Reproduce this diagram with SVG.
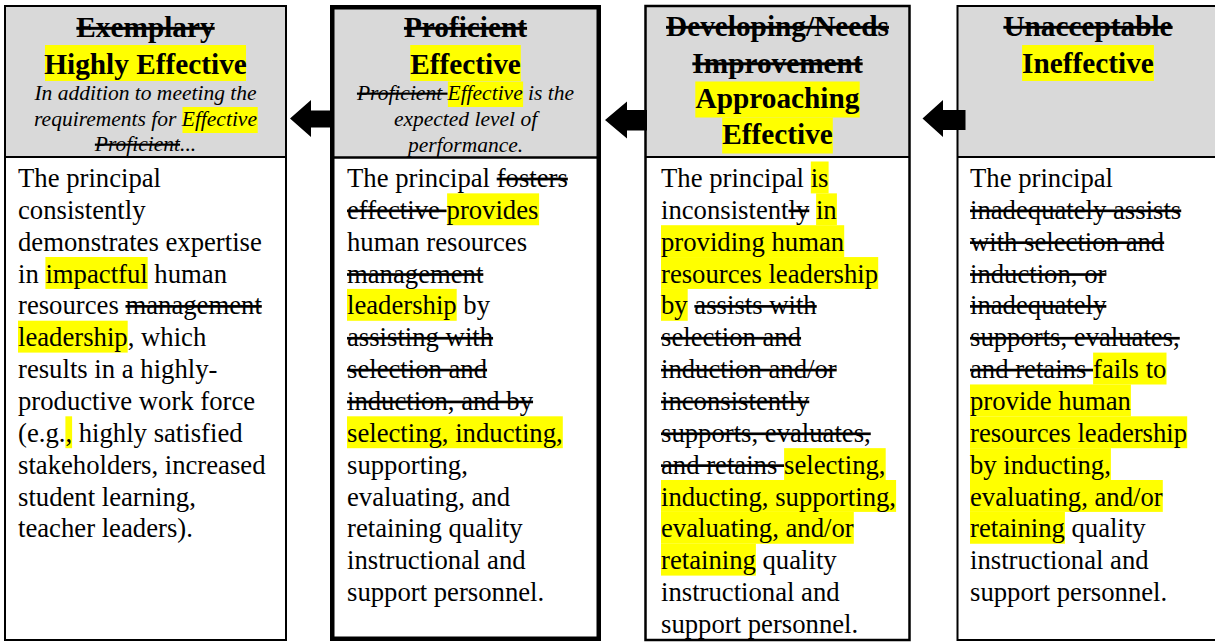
<svg xmlns="http://www.w3.org/2000/svg" width="1215" height="643" viewBox="0 0 1215 643">
<style>
.hd{font-family:"Liberation Serif","Times New Roman",serif;font-weight:bold;font-size:29.3px;text-anchor:middle;fill:#000}
.it{font-family:"Liberation Serif","Times New Roman",serif;font-style:italic;font-size:21.5px;text-anchor:middle;fill:#000}
.bd{font-family:"Liberation Serif","Times New Roman",serif;font-size:26.7px;fill:#000}
.s{text-decoration:line-through}
.hl{fill:#ffff00}
.hf{fill:#d9d9d9}
.bg{fill:#fff}
.ol{fill:none;stroke:#000;stroke-width:2}
.dv{stroke:#000;stroke-width:2}
.ar{fill:#000}
</style>
<rect width="1215" height="643" fill="#fff"/>

<g id="node-highly-effective">
<rect class="bg" x="5" y="6" width="281" height="634"/>
<rect class="hf" x="5" y="6" width="281" height="151"/>
<rect class="hl" x="45" y="45" width="201" height="36"/>
<rect class="hl" x="182.5" y="107" width="75.2" height="26"/>
<rect class="hl" x="45.4" y="257" width="102.3" height="31.9"/>
<rect class="hl" x="18" y="320.7" width="109.7" height="31.9"/>
<rect class="hl" x="65.4" y="416.3" width="6.7" height="31.9"/>
<text class="hd" x="145.5" y="37"><tspan class="s">Exemplary</tspan></text>
<text class="hd" x="145.5" y="74">Highly Effective</text>
<text class="it" x="145.5" y="100">In addition to meeting the</text>
<text class="it" x="145.5" y="126">requirements for Effective</text>
<text class="it" x="145.5" y="151"><tspan class="s">Proficient</tspan>...</text>
<text class="bd">
<tspan x="18" y="187">The principal</tspan>
<tspan x="18" y="218.85">consistently</tspan>
<tspan x="18" y="250.7">demonstrates expertise</tspan>
<tspan x="18" y="282.55">in impactful human</tspan>
<tspan x="18" y="314.4">resources <tspan class="s">management</tspan></tspan>
<tspan x="18" y="346.25">leadership, which</tspan>
<tspan x="18" y="378.1">results in a highly-</tspan>
<tspan x="18" y="409.95">productive work force</tspan>
<tspan x="18" y="441.8">(e.g., highly satisfied</tspan>
<tspan x="18" y="473.65">stakeholders, increased</tspan>
<tspan x="18" y="505.5">student learning,</tspan>
<tspan x="18" y="537.35">teacher leaders).</tspan>
</text>
<rect class="ol" x="5" y="6" width="281" height="634"/>
<line class="dv" x1="5" y1="157" x2="286" y2="157"/>
</g>

<g id="node-effective">
<rect class="bg" x="332" y="7" width="267" height="632"/>
<rect class="hf" x="332" y="7" width="267" height="150"/>
<rect class="hl" x="410.2" y="45" width="110.6" height="36"/>
<rect class="hl" x="447.9" y="81.5" width="75.2" height="25.5"/>
<rect class="hl" x="447.1" y="193.35" width="92" height="31.9"/>
<rect class="hl" x="347" y="288.9" width="109.7" height="31.9"/>
<rect class="hl" x="347" y="416.3" width="215.8" height="31.9"/>
<text class="hd" x="465.5" y="37"><tspan class="s">Proficient</tspan></text>
<text class="hd" x="465.5" y="74">Effective</text>
<text class="it" x="465.5" y="100"><tspan class="s">Proficient </tspan>Effective is the</text>
<text class="it" x="465.5" y="126">expected level of</text>
<text class="it" x="465.5" y="152">performance.</text>
<text class="bd">
<tspan x="347" y="187">The principal <tspan class="s">fosters</tspan></tspan>
<tspan x="347" y="218.85"><tspan class="s">effective </tspan>provides</tspan>
<tspan x="347" y="250.7">human resources</tspan>
<tspan x="347" y="282.55" class="s">management</tspan>
<tspan x="347" y="314.4">leadership by</tspan>
<tspan x="347" y="346.25" class="s">assisting with</tspan>
<tspan x="347" y="378.1" class="s">selection and</tspan>
<tspan x="347" y="409.95" class="s">induction, and by</tspan>
<tspan x="347" y="441.8">selecting, inducting,</tspan>
<tspan x="347" y="473.65">supporting,</tspan>
<tspan x="347" y="505.5">evaluating, and</tspan>
<tspan x="347" y="537.35">retaining quality</tspan>
<tspan x="347" y="569.2">instructional and</tspan>
<tspan x="347" y="601.05">support personnel.</tspan>
</text>
<rect x="332.25" y="7.25" width="266.5" height="631.5" fill="none" stroke="#000" stroke-width="4.5"/>
<line x1="331" y1="157.5" x2="600" y2="157.5" stroke="#000" stroke-width="2.5"/>
</g>

<g id="node-approaching-effective">
<rect class="bg" x="645.5" y="6" width="264" height="634"/>
<rect class="hf" x="645.5" y="6" width="264" height="151"/>
<rect class="hl" x="695.3" y="81.5" width="164.4" height="36"/>
<rect class="hl" x="722.2" y="117.5" width="110.6" height="36"/>
<rect class="hl" x="810.8" y="161.5" width="17.8" height="31.9"/>
<rect class="hl" x="816.1" y="193.35" width="20.8" height="31.9"/>
<rect class="hl" x="661" y="225.2" width="183.2" height="31.9"/>
<rect class="hl" x="661" y="257.05" width="217.2" height="31.9"/>
<rect class="hl" x="661" y="288.9" width="26.7" height="31.9"/>
<rect class="hl" x="784.1" y="448.15" width="101.6" height="31.9"/>
<rect class="hl" x="661" y="480" width="235.1" height="31.9"/>
<rect class="hl" x="661" y="511.85" width="192.8" height="31.9"/>
<rect class="hl" x="661" y="543.7" width="94.9" height="31.9"/>
<text class="hd" x="777.5" y="36"><tspan class="s">Developing/Needs</tspan></text>
<text class="hd" x="777.5" y="72.5"><tspan class="s">Improvement</tspan></text>
<text class="hd" x="777.5" y="108">Approaching</text>
<text class="hd" x="777.5" y="144">Effective</text>
<text class="bd">
<tspan x="661" y="187">The principal is</tspan>
<tspan x="661" y="218.85">inconsistent<tspan class="s">ly</tspan> in</tspan>
<tspan x="661" y="250.7">providing human</tspan>
<tspan x="661" y="282.55">resources leadership</tspan>
<tspan x="661" y="314.4">by <tspan class="s">assists with</tspan></tspan>
<tspan x="661" y="346.25" class="s">selection and</tspan>
<tspan x="661" y="378.1" class="s">induction and/or</tspan>
<tspan x="661" y="409.95" class="s">inconsistently</tspan>
<tspan x="661" y="441.8" class="s">supports, evaluates,</tspan>
<tspan x="661" y="473.65"><tspan class="s">and retains </tspan>selecting,</tspan>
<tspan x="661" y="505.5">inducting, supporting,</tspan>
<tspan x="661" y="537.35">evaluating, and/or</tspan>
<tspan x="661" y="569.2">retaining quality</tspan>
<tspan x="661" y="601.05">instructional and</tspan>
<tspan x="661" y="632.9">support personnel.</tspan>
</text>
<rect x="645.5" y="6" width="264" height="634" fill="none" stroke="#000" stroke-width="2.5"/>
<line class="dv" x1="645.5" y1="157" x2="909.5" y2="157"/>
</g>

<g id="node-ineffective">
<rect class="bg" x="957.5" y="6" width="270" height="634"/>
<rect class="hf" x="957.5" y="6" width="270" height="151"/>
<rect class="hl" x="1022.1" y="45" width="131.8" height="36"/>
<rect class="hl" x="1093.1" y="352.6" width="73.4" height="31.9"/>
<rect class="hl" x="970" y="384.45" width="160.9" height="31.9"/>
<rect class="hl" x="970" y="416.3" width="217.2" height="31.9"/>
<rect class="hl" x="970" y="448.15" width="140.9" height="31.9"/>
<rect class="hl" x="970" y="480" width="192.8" height="31.9"/>
<rect class="hl" x="970" y="511.85" width="94.9" height="31.9"/>
<text class="hd" x="1088" y="36"><tspan class="s">Unacceptable</tspan></text>
<text class="hd" x="1088" y="73">Ineffective</text>
<text class="bd">
<tspan x="970" y="187">The principal</tspan>
<tspan x="970" y="218.85" class="s">inadequately assists</tspan>
<tspan x="970" y="250.7" class="s">with selection and</tspan>
<tspan x="970" y="282.55" class="s">induction, or</tspan>
<tspan x="970" y="314.4" class="s">inadequately</tspan>
<tspan x="970" y="346.25" class="s">supports, evaluates,</tspan>
<tspan x="970" y="378.1"><tspan class="s">and retains </tspan>fails to</tspan>
<tspan x="970" y="409.95">provide human</tspan>
<tspan x="970" y="441.8">resources leadership</tspan>
<tspan x="970" y="473.65">by inducting,</tspan>
<tspan x="970" y="505.5">evaluating, and/or</tspan>
<tspan x="970" y="537.35">retaining quality</tspan>
<tspan x="970" y="569.2">instructional and</tspan>
<tspan x="970" y="601.05">support personnel.</tspan>
</text>
<rect class="ol" x="957.5" y="6" width="270" height="634"/>
<line class="dv" x1="957.5" y1="157" x2="1227" y2="157"/>
</g>

<g id="connectors">
<polygon class="ar" points="290,118.5 311,100 311,110.5 332,110.5 332,127.5 311,127.5 311,137"/>
<polygon class="ar" points="605,120 627,101.5 627,110 647,110 647,130.5 627,130.5 627,138.5"/>
<polygon class="ar" points="922.5,118.5 943,100 943,110 965.5,110 965.5,130 943,130 943,137"/>
</g>
</svg>
